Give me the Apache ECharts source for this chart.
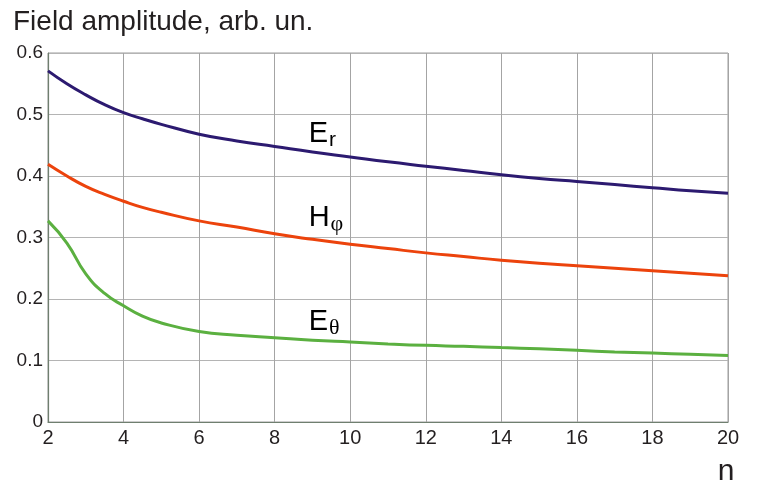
<!DOCTYPE html>
<html>
<head>
<meta charset="utf-8">
<script src="https://cdn.jsdelivr.net/npm/echarts@6/dist/echarts.min.js"></script>
<style>
  html, body { margin: 0; padding: 0; background: #ffffff; }
  #chart { width: 764px; height: 486px; }
</style>
</head>
<body>
<div id="chart"></div>
<script>
// Mode number n (x axis)
const nValues = [2, 2.5, 3, 3.5, 4, 4.5, 5, 6, 7, 8, 9, 10, 11, 12, 13, 14, 15, 16, 17, 18, 19, 20];

// Field amplitudes, arbitrary units
const erValues     = [0.571, 0.550, 0.532, 0.516, 0.503, 0.493, 0.484, 0.468, 0.457, 0.448, 0.439, 0.431, 0.423, 0.416, 0.409, 0.402, 0.396, 0.391, 0.386, 0.381, 0.376, 0.372];
const hphiValues   = [0.419, 0.400, 0.383, 0.370, 0.359, 0.349, 0.341, 0.327, 0.317, 0.306, 0.297, 0.289, 0.282, 0.275, 0.269, 0.263, 0.258, 0.254, 0.250, 0.246, 0.242, 0.238];
const ethetaValues = [0.327, 0.291, 0.241, 0.209, 0.189, 0.172, 0.161, 0.147, 0.141, 0.137, 0.133, 0.130, 0.127, 0.1246, 0.123, 0.121, 0.119, 0.1165, 0.114, 0.112, 0.110, 0.108];

// Axis ticks
const xTicks = [2, 4, 6, 8, 10, 12, 14, 16, 18, 20];
const yTicks = [0, 0.1, 0.2, 0.3, 0.4, 0.5, 0.6];

const colors = { er: '#2c1a70', hphi: '#ec430c', etheta: '#5bb040' };

const pairs = (ys) => nValues.map((n, i) => [n, ys[i]]);

const chart = echarts.init(document.getElementById('chart'), null, { renderer: 'canvas' });

const baseFont = 'Liberation Sans, Arial, Helvetica, sans-serif';

const lineSeries = (name, values, color) => ({
  name, type: 'line', data: pairs(values),
  smooth: 0.5, showSymbol: false,
  lineStyle: { color, width: 3 }
});

const option = {
  animation: false,
  backgroundColor: '#ffffff',
  title: {
    text: 'Field amplitude, arb. un.',
    left: 8,
    top: 3,
    textStyle: { fontFamily: baseFont, fontSize: 28, fontWeight: 'normal', color: '#231f20' }
  },
  grid: { left: 48, right: 36, top: 53, bottom: 64, show: true, borderColor: '#9c9c9c', borderWidth: 1 },
  xAxis: {
    type: 'value',
    min: xTicks[0],
    max: xTicks[xTicks.length - 1],
    interval: 2,
    axisLine: { show: true, lineStyle: { color: '#6f7f6f', width: 1.2 } },
    axisTick: { show: false },
    axisLabel: { fontFamily: baseFont, fontSize: 20, color: '#231f20', margin: 6 },
    splitLine: { show: true, lineStyle: { color: '#a4a4a4', width: 1 } }
  },
  yAxis: {
    type: 'value',
    min: yTicks[0],
    max: yTicks[yTicks.length - 1],
    interval: 0.1,
    axisLine: { show: true, lineStyle: { color: '#6f7f6f', width: 1.2 } },
    axisTick: { show: false },
    axisLabel: { fontFamily: baseFont, fontSize: 19, color: '#231f20', margin: 5,
      formatter: (v) => (v === 0 ? '0' : v.toFixed(1)) },
    splitLine: { show: true, lineStyle: { color: '#b4b4b4', width: 1 } }
  },
  series: [
    lineSeries('Er', erValues, colors.er),
    lineSeries('Hphi', hphiValues, colors.hphi),
    lineSeries('Etheta', ethetaValues, colors.etheta)
  ]
};

chart.setOption(option);

// Curve names placed at data coordinates, with subscript styling
const labelRich = {
  big: { fontFamily: baseFont, fontSize: 29, color: '#231f20' },
  subLatin: { fontFamily: baseFont, fontSize: 21, color: '#231f20', padding: [12, 0, 0, 1] },
  subGreek: { fontFamily: 'Liberation Serif, DejaVu Serif, serif', fontSize: 22, color: '#231f20', padding: [12, 0, 0, 1] }
};
const curveLabels = [
  { at: [8.9, 0.468], text: '{big|E}{subLatin|r}' },
  { at: [8.9, 0.332], text: '{big|H}{subGreek|φ}' },
  { at: [8.9, 0.163], text: '{big|E}{subGreek|θ}' }
];
const graphics = curveLabels.map((l) => {
  const p = chart.convertToPixel({ gridIndex: 0 }, l.at);
  return {
    type: 'text', x: p[0], y: p[1],
    style: { text: l.text, rich: labelRich, align: 'left', verticalAlign: 'middle' }
  };
});
// Axis name for n, under the last tick
const nPos = chart.convertToPixel({ gridIndex: 0 }, [19.95, 0]);
graphics.push({
  type: 'text', x: nPos[0], y: nPos[1] + 50,
  style: { text: 'n', fontFamily: baseFont, fontSize: 30, fill: '#231f20', align: 'center', verticalAlign: 'middle' }
});
chart.setOption({ graphic: graphics });
</script>
</body>
</html>
